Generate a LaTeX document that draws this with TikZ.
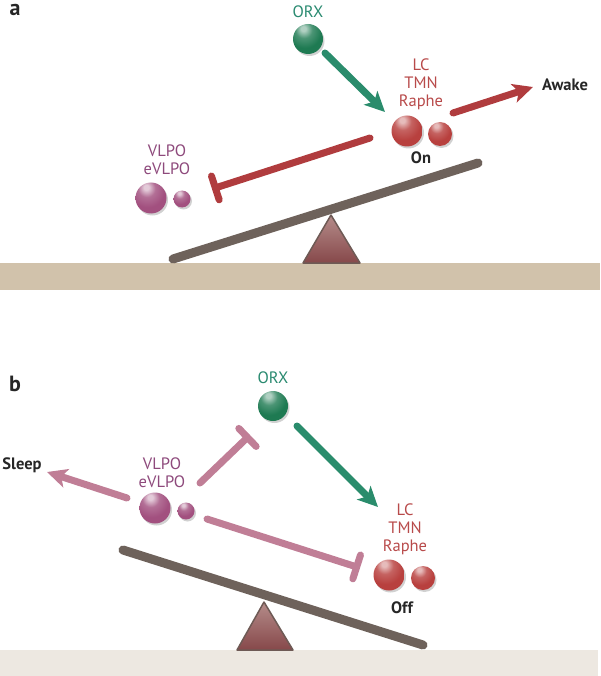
\documentclass[tikz,border=0pt]{standalone}
\usepackage{fontspec}
\setmainfont{PT Sans}
\usetikzlibrary{arrows.meta,shadows}
\definecolor{grn}{HTML}{1E7A52}
\definecolor{grnarrow}{HTML}{2A8C6C}
\definecolor{grntext}{HTML}{2A8A70}
\definecolor{redball}{HTML}{B8403E}
\definecolor{redarrow}{HTML}{B03C3E}
\definecolor{redtext}{HTML}{B84A4A}
\definecolor{purball}{HTML}{A2507F}
\definecolor{pinkline}{HTML}{C07E96}
\definecolor{purtext}{HTML}{8E4A7C}
\definecolor{beam}{HTML}{6E625B}
\definecolor{grounda}{HTML}{D1C2AB}
\definecolor{groundb}{HTML}{EDE8E1}
\definecolor{tritop}{HTML}{B58C8A}
\definecolor{tribot}{HTML}{86484A}
\definecolor{triedge}{HTML}{6E5A55}
\colorlet{grnhi}{grn!35!white}
\colorlet{grnmid}{grn!80!white}
\colorlet{grndk}{grn!80!black}
\colorlet{redhi}{redball!35!white}
\colorlet{redmid}{redball!82!white}
\colorlet{reddk}{redball!80!black}
\colorlet{purhi}{purball!30!white}
\colorlet{purmid}{purball!82!white}
\colorlet{purdk}{purball!80!black}
\pgfdeclareradialshading{ballgrn}{\pgfpoint{-8bp}{18bp}}{color(0bp)=(grnhi); color(4bp)=(grnhi); color(14bp)=(grnmid); color(28bp)=(grn); color(58bp)=(grn); color(70bp)=(grndk); color(100bp)=(grndk)}
\pgfdeclareradialshading{ballred}{\pgfpoint{-8bp}{18bp}}{color(0bp)=(redhi); color(4bp)=(redhi); color(14bp)=(redmid); color(28bp)=(redball); color(58bp)=(redball); color(70bp)=(reddk); color(100bp)=(reddk)}
\pgfdeclareradialshading{ballpur}{\pgfpoint{-8bp}{18bp}}{color(0bp)=(purhi); color(4bp)=(purhi); color(14bp)=(purmid); color(28bp)=(purball); color(58bp)=(purball); color(70bp)=(purdk); color(100bp)=(purdk)}
\tikzset{
  sphere/.style={circle, inner sep=0pt, minimum size=#1,
    drop shadow={shadow xshift=1.5pt, shadow yshift=-2pt, fill=black!18, opacity=1}},
  lbl/.style={font=\fontsize{16.5}{18}\selectfont, align=center, inner sep=0pt},
  blbl/.style={font=\fontsize{16.5}{18}\selectfont\bfseries, inner sep=0pt, text=black!85},
  panel/.style={font=\fontsize{22}{22}\selectfont\bfseries, inner sep=0pt, text=black!85},
  excite/.style={line width=7pt, line cap=round, -{Stealth[length=20pt,width=19pt,inset=5pt]}},
  inhib/.style={line width=7pt, line cap=round, -{Bar[width=25pt,round]}},
  beamline/.style={line width=9pt, line cap=round, draw=beam},
  fulcrum/.style={draw=triedge, line width=1.5pt, line join=round, top color=tritop, bottom color=tribot}
}
\begin{document}
\begin{tikzpicture}[x=1pt,y=-1pt]
\useasboundingbox (0,0) rectangle (600,676);
% ---------- panel a ----------
\fill[grounda] (0,263) rectangle (600,290);
\draw[fulcrum] (331,215) -- (360,263) -- (303,263) -- cycle;
\coordinate (beamAl) at (173,259);
\coordinate (beamAr) at (478,163);
\draw[beamline] (beamAl) -- (beamAr);
\node[panel] (la) at (15,10) {a};
\node[lbl, text=grntext] (orxAt) at (308,12) {ORX};
\node[sphere=30pt, shading=ballgrn] (orxA) at (308,39) {};
\node[lbl, text=redtext] (lcAt) at (421,84) {LC\\TMN\\Raphe};
\node[sphere=31pt, shading=ballred] (lcA1) at (407,131) {};
\node[sphere=24pt, shading=ballred] (lcA2) at (440,134) {};
\node[blbl] (onA) at (421,158) {On};
\node[blbl] (awake) at (565,85) {Awake};
\node[lbl, text=purtext] (vlAt) at (167,160) {VLPO\\eVLPO};
\node[sphere=31pt, shading=ballpur] (vlA1) at (151,198) {};
\node[sphere=17pt, shading=ballpur] (vlA2) at (182,199) {};
\coordinate (gA1) at (325,53);
\coordinate (gA2) at (385,112);
\draw[excite, draw=grnarrow] (gA1) -- (gA2);
\coordinate (rA1) at (453,113);
\coordinate (rA2) at (533,87);
\draw[excite, draw=redarrow] (rA1) -- (rA2);
\coordinate (iA1) at (370,138);
\coordinate (iA2) at (212,189);
\draw[inhib, draw=redarrow] (iA1) -- (iA2);
% ---------- panel b ----------
\fill[groundb] (0,650) rectangle (598,676);
\draw[fulcrum] (264,602) -- (293,650) -- (237,650) -- cycle;
\coordinate (beamBl) at (123,550);
\coordinate (beamBr) at (423,645);
\draw[beamline] (beamBl) -- (beamBr);
\node[panel] (lb) at (15,384) {b};
\node[lbl, text=grntext] (orxBt) at (273,378) {ORX};
\node[sphere=30pt, shading=ballgrn] (orxB) at (273,406) {};
\node[blbl] (sleep) at (22,465) {Sleep};
\node[lbl, text=purtext] (vlBt) at (162,473) {VLPO\\eVLPO};
\node[sphere=31pt, shading=ballpur] (vlB1) at (155,508) {};
\node[sphere=17pt, shading=ballpur] (vlB2) at (186,511) {};
\node[lbl, text=redtext] (lcBt) at (405,529) {LC\\TMN\\Raphe};
\node[sphere=31pt, shading=ballred] (lcB1) at (389,575) {};
\node[sphere=24pt, shading=ballred] (lcB2) at (423,578) {};
\node[blbl] (offB) at (402,608) {Off};
\coordinate (gB1) at (297,426);
\coordinate (gB2) at (378,507);
\draw[excite, draw=grnarrow] (gB1) -- (gB2);
\coordinate (sB1) at (127,498);
\coordinate (sB2) at (47,472);
\draw[excite, draw=pinkline] (sB1) -- (sB2);
\coordinate (iB1) at (200,483);
\coordinate (iB2) at (250,435);
\draw[inhib, draw=pinkline] (iB1) -- (iB2);
\coordinate (iB3) at (207,519);
\coordinate (iB4) at (360,568);
\draw[inhib, draw=pinkline] (iB3) -- (iB4);
\end{tikzpicture}
\end{document}
